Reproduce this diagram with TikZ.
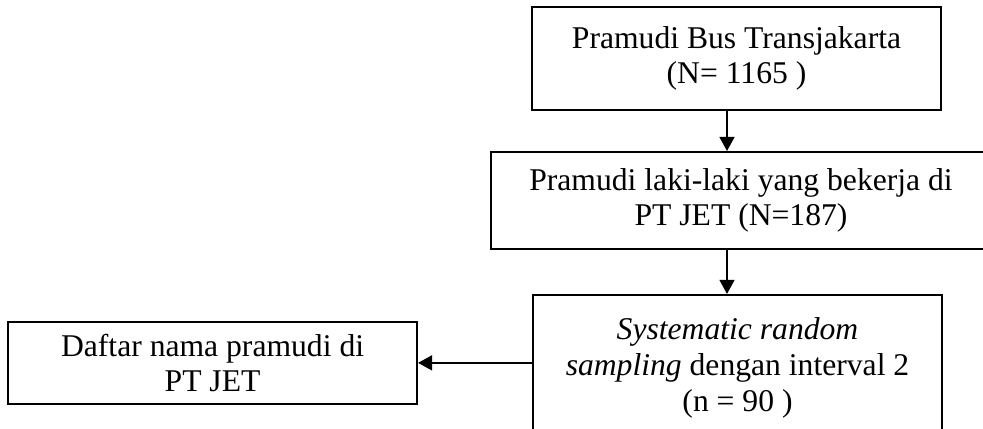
\documentclass[tikz,border=0pt]{standalone}
\usepackage{fontspec}
\setmainfont{Liberation Serif}
\usetikzlibrary{arrows.meta, positioning}

\begin{document}
\begin{tikzpicture}[
    node distance=0.8cm,
    box/.style={draw, line width=1.1pt, minimum width=8.18cm, align=center,
                font=\fontsize{18}{20.3}\selectfont, inner sep=0pt},
    arrow/.style={-{Triangle[length=0.28cm, width=0.3cm]}, line width=0.8pt},
]
\useasboundingbox (0,0) rectangle (19.66,-8.56);

% ── Population ──
\node[box, minimum height=2.06cm] (pop) at (14.73,-1.17)
    {Pramudi Bus Transjakarta\\(N= 1165 )};
\node[box, minimum width=10cm, minimum height=1.94cm,
      below=0.8cm of pop.south west, anchor=north west, xshift=-0.82cm]
    (jet) {Pramudi laki-laki yang bekerja di\\PT JET (N=187)};

% ── Sample ──
\node[box, minimum height=2.92cm,
      below=0.88cm of jet.south west, anchor=north west, xshift=0.84cm]
    (sample) {\textit{Systematic random}\\\textit{sampling} dengan interval 2\\(n = 90 )};
\node[box, minimum height=1.64cm, left=2.28cm of sample.west, yshift=0.1cm]
    (list) {Daftar nama pramudi di\\PT JET};

% ── Arrows ──
\draw[arrow] ([xshift=-0.19cm]pop.south) -- ([xshift=-0.19cm]pop.south |- jet.north);
\draw[arrow] ([xshift=-0.19cm]pop.south |- jet.south) -- ([xshift=-0.19cm]pop.south |- sample.north);
\draw[arrow] (sample.west |- list.east) -- (list.east);
\end{tikzpicture}
\end{document}
